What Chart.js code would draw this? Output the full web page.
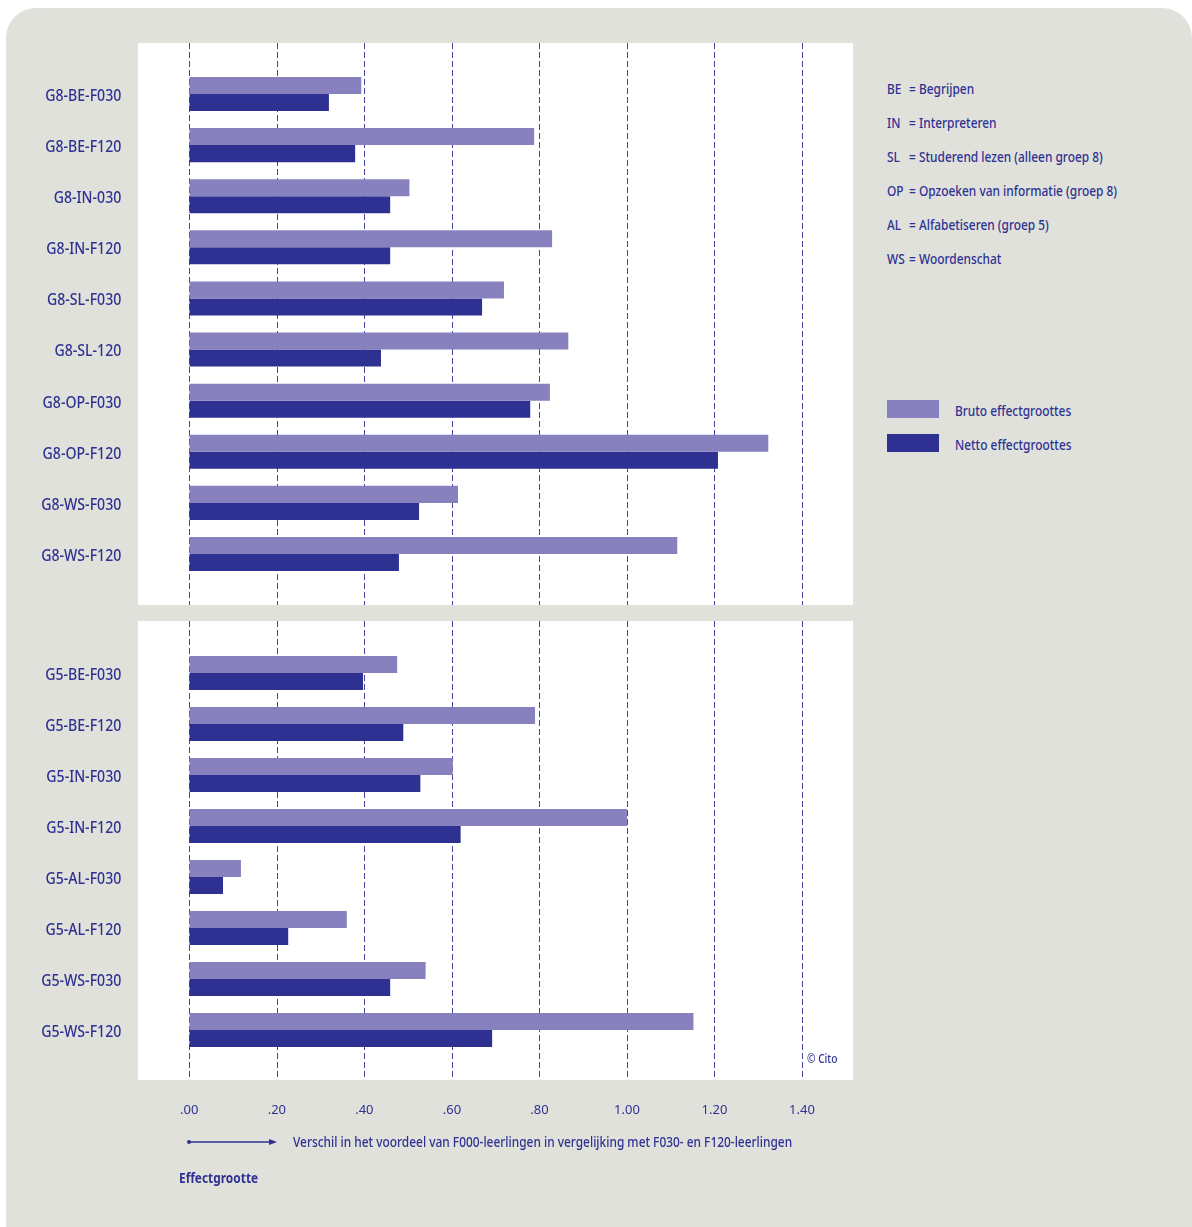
<!DOCTYPE html>
<html>
<head>
<meta charset="utf-8">
<script src="https://cdn.jsdelivr.net/npm/chart.js@4.4.1/dist/chart.umd.min.js"></script>
<style>
  html, body { margin:0; padding:0; background:#ffffff; width:1192px; height:1227px; overflow:hidden; }
  body { position:relative; font-family:"Noto Sans",sans-serif; color:#2e3192; }
  #bg { position:absolute; left:6px; top:8px; width:1186px; height:1240px; background:#e1e1dc; border-radius:30px 30px 0 0; }
  .wrap { position:absolute; left:0; width:853px; }
  .abs { position:absolute; white-space:nowrap; }
  .cond { transform:scaleX(0.85); transform-origin:0 50%; font-weight:500; }
  .leg { font-size:14px; line-height:14px; }
  .code { display:inline-block; width:26px; }
  .sw { position:absolute; width:52px; height:18px; }
</style>
</head>
<body>
<div id="bg"></div>
<div class="wrap" style="top:43px;height:562px;"><canvas id="c1"></canvas></div>
<div class="wrap" style="top:621px;height:510px;"><canvas id="c2"></canvas></div>
<div id="legend"></div>
<svg class="abs" style="left:0;top:0;" width="1192" height="1227">
  <line x1="189" y1="1142" x2="272" y2="1142" stroke="#2e3192" stroke-width="1.3"/>
  <circle cx="189" cy="1142" r="2" fill="#2e3192"/>
  <polygon points="269,1139 277,1142 269,1145" fill="#2e3192"/>
</svg>
<div class="abs cond" style="left:293px;top:1133px;font-size:14px;line-height:18px;">Verschil in het voordeel van F000-leerlingen in vergelijking met F030- en F120-leerlingen</div>
<div class="abs cond" style="left:179px;top:1169px;font-size:14px;line-height:18px;font-weight:bold;">Effectgrootte</div>
<div class="abs cond" style="left:807px;top:1052px;font-size:12px;line-height:14px;">© Cito</div>
<script>
// ---- data ----
const categoriesG8 = ['G8-BE-F030','G8-BE-F120','G8-IN-030','G8-IN-F120','G8-SL-F030','G8-SL-120','G8-OP-F030','G8-OP-F120','G8-WS-F030','G8-WS-F120'];
const brutoG8 = [0.393, 0.788, 0.503, 0.829, 0.719, 0.866, 0.824, 1.323, 0.614, 1.115];
const nettoG8 = [0.319, 0.379, 0.459, 0.459, 0.669, 0.438, 0.779, 1.208, 0.525, 0.479];

const categoriesG5 = ['G5-BE-F030','G5-BE-F120','G5-IN-F030','G5-IN-F120','G5-AL-F030','G5-AL-F120','G5-WS-F030','G5-WS-F120'];
const brutoG5 = [0.475, 0.790, 0.602, 1.000, 0.118, 0.360, 0.540, 1.152];
const nettoG5 = [0.397, 0.489, 0.528, 0.620, 0.077, 0.226, 0.459, 0.692];

const xTickValues = [0, 0.2, 0.4, 0.6, 0.8, 1.0, 1.2, 1.4];
const xTickLabels = ['.00', '.20', '.40', '.60', '.80', '1.00', '1.20', '1.40'];

const seriesNames = ['Bruto effectgroottes', 'Netto effectgroottes'];
const legendCodes = ['BE', 'IN', 'SL', 'OP', 'AL', 'WS'];
const legendTexts = ['Begrijpen', 'Interpreteren', 'Studerend lezen (alleen groep 8)', 'Opzoeken van informatie (groep 8)', 'Alfabetiseren (groep 5)', 'Woordenschat'];

// ---- styles ----
const BRUTO = '#8782bd';
const NETTO = '#2e3192';
const TEXT = '#2e3192';
const FONT = '"Noto Sans", sans-serif';

// legend (HTML)
(function(){
  const L = document.getElementById('legend');
  let h = '';
  legendCodes.forEach((c, i) => {
    h += '<div class="abs leg cond" style="left:887px;top:' + (82 + i*34) + 'px;"><span class="code">' + c + '</span>= ' + legendTexts[i] + '</div>';
  });
  h += '<div class="sw" style="left:887px;top:400px;background:' + BRUTO + ';"></div>';
  h += '<div class="sw" style="left:887px;top:434px;background:' + NETTO + ';"></div>';
  h += '<div class="abs leg cond" style="left:955px;top:404px;">' + seriesNames[0] + '</div>';
  h += '<div class="abs leg cond" style="left:955px;top:438px;">' + seriesNames[1] + '</div>';
  L.innerHTML = h;
})();

const panelPlugin = {
  id: 'panel',
  beforeDraw(chart, args, opts) {
    const ctx = chart.ctx;
    const xs = chart.scales.x;
    // condense the category labels horizontally around their right edge
    const ys = chart.scales.y;
    if (!ys._condensed) {
      const orig = ys.drawLabels;
      ys.drawLabels = function(area) {
        const c = this.ctx;
        const ax = this.right - this.options.ticks.padding;
        c.save();
        c.translate(ax, 0); c.scale(0.83, 1); c.translate(-ax, 0);
        orig.call(this, area);
        c.restore();
      };
      ys._condensed = true;
    }
    ctx.save();
    ctx.fillStyle = '#e1e1dc';
    ctx.fillRect(6, 0, chart.width - 6, chart.height);
    ctx.fillStyle = '#ffffff';
    ctx.fillRect(opts.left, 0, opts.right - opts.left, opts.height);
    ctx.strokeStyle = '#4645a3';
    ctx.lineWidth = 1;
    ctx.setLineDash([6, 3]);
    xTickValues.forEach(v => {
      const x = Math.round(xs.getPixelForValue(v)) + 0.5;
      ctx.beginPath();
      ctx.moveTo(x, 0);
      ctx.lineTo(x, opts.height);
      ctx.stroke();
    });
    ctx.restore();
  }
};

function makeChart(id, cats, bruto, netto, showX, padTop, padBottom, panelH) {
  return new Chart(document.getElementById(id), {
    type: 'bar',
    data: {
      labels: cats,
      datasets: [
        { label: seriesNames[0], data: bruto, backgroundColor: BRUTO, borderWidth: 0 },
        { label: seriesNames[1], data: netto, backgroundColor: NETTO, borderWidth: 0 }
      ]
    },
    options: {
      indexAxis: 'y',
      responsive: true,
      maintainAspectRatio: false,
      animation: false,
      devicePixelRatio: 1,
      layout: { padding: { top: padTop, bottom: padBottom, left: 0, right: 51 } },
      datasets: { bar: { categoryPercentage: 0.667, barPercentage: 1.0 } },
      plugins: {
        legend: { display: false },
        tooltip: { enabled: false },
        panel: { left: 138, right: 853, height: panelH }
      },
      scales: {
        x: {
          display: showX,
          min: 0, max: 1.4,
          grid: { display: false },
          border: { display: false },
          afterBuildTicks: s => { s.ticks = xTickValues.map(v => ({ value: v })); },
          afterFit: s => { if (showX) { s.height = 75.5; } s.paddingLeft = 0; s.paddingRight = 0; },
          ticks: {
            padding: 39,
            color: TEXT,
            font: { family: FONT, size: 13 },
            maxRotation: 0,
            callback: (v, i) => xTickLabels[i]
          }
        },
        y: {
          grid: { display: false, drawTicks: false },
          border: { display: false },
          afterFit: s => { s.width = 189.3; s.paddingTop = 0; s.paddingBottom = 0; },
          ticks: {
            padding: 68,
            labelOffset: 2,
            color: TEXT,
            font: { family: FONT, size: 17, weight: 500 }
          }
        }
      }
    },
    plugins: [panelPlugin]
  });
}

makeChart('c1', categoriesG8, brutoG8, nettoG8, false, 25.4, 25.4, 562);
makeChart('c2', categoriesG5, brutoG5, nettoG5, true, 26.5, 0, 459);
</script>
</body>
</html>
